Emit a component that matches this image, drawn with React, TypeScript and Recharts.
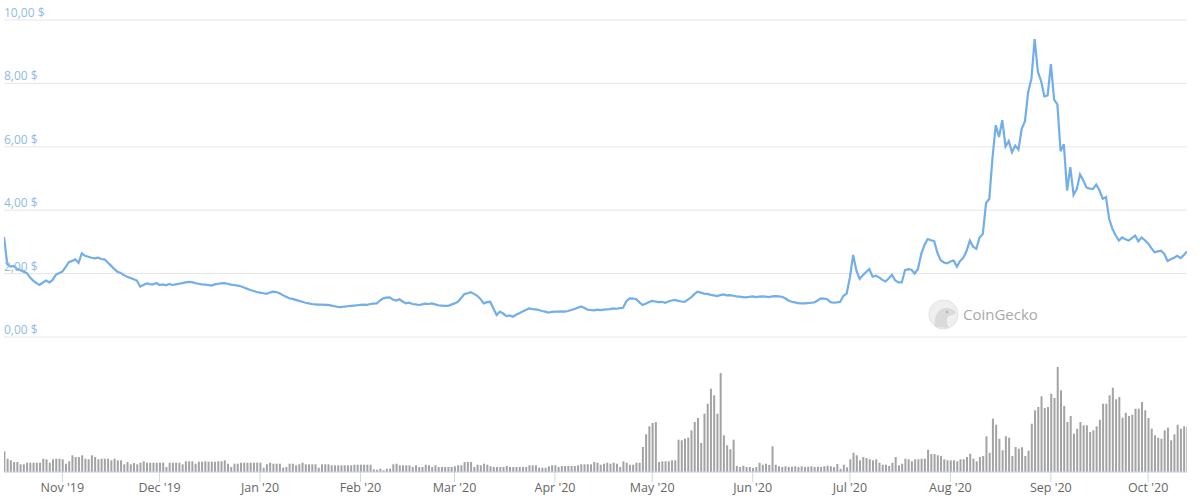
import { ComposedChart, Line, Bar, XAxis, YAxis, CartesianGrid } from 'recharts';

const START = Date.UTC(2019, 9, 14);
const DAY = 86400000;

// daily price, USD (Oct 14 2019 .. Oct 13 2020)
const price = [
  3.16, 2.3, 2.22, 2.24, 2.15, 2.11, 2.06, 2.02, 1.88, 1.78,
  1.7, 1.64, 1.72, 1.78, 1.72, 1.8, 1.96, 2.02, 2.06, 2.2,
  2.36, 2.4, 2.45, 2.34, 2.64, 2.56, 2.53, 2.5, 2.48, 2.5,
  2.46, 2.45, 2.35, 2.25, 2.15, 2.06, 2.02, 1.95, 1.9, 1.86,
  1.82, 1.78, 1.59, 1.64, 1.69, 1.67, 1.66, 1.7, 1.64, 1.66,
  1.63, 1.67, 1.64, 1.66, 1.68, 1.7, 1.72, 1.74, 1.73, 1.7,
  1.68, 1.66, 1.65, 1.64, 1.62, 1.66, 1.68, 1.69, 1.7, 1.68,
  1.65, 1.64, 1.62, 1.6, 1.56, 1.52, 1.48, 1.45, 1.42, 1.4,
  1.38, 1.36, 1.4, 1.43, 1.42, 1.38, 1.32, 1.27, 1.22, 1.2,
  1.17, 1.14, 1.11, 1.08, 1.06, 1.04, 1.03, 1.02, 1.02, 1.01,
  1.01, 0.99, 0.97, 0.95, 0.94, 0.96, 0.97, 0.98, 0.99, 1.0,
  1.01, 1.02, 1.01, 1.04, 1.05, 1.06, 1.15, 1.22, 1.24, 1.25,
  1.18, 1.15, 1.19, 1.12, 1.06, 1.08, 1.04, 1.03, 1.01, 1.03,
  1.05, 1.04, 1.06, 1.03, 1.0, 0.99, 0.98, 0.98, 1.02, 1.06,
  1.11, 1.22, 1.35, 1.38, 1.41, 1.36, 1.3, 1.2, 1.06, 1.1,
  1.11, 0.9, 0.69, 0.8, 0.74, 0.66, 0.68, 0.64, 0.7, 0.75,
  0.8, 0.85, 0.9, 0.88, 0.87, 0.85, 0.82, 0.8, 0.77, 0.79,
  0.8, 0.8, 0.81, 0.8, 0.82, 0.85, 0.88, 0.92, 0.96, 0.92,
  0.86, 0.85, 0.84, 0.86, 0.85, 0.86, 0.87, 0.88, 0.9, 0.89,
  0.91, 0.92, 1.12, 1.22, 1.21, 1.2, 1.1, 1.01, 1.05, 1.1,
  1.14, 1.12, 1.1, 1.11, 1.08, 1.12, 1.15, 1.17, 1.14, 1.12,
  1.11, 1.18, 1.25, 1.35, 1.43, 1.4, 1.37, 1.36, 1.33, 1.31,
  1.29, 1.32, 1.34, 1.31, 1.32, 1.3, 1.28, 1.27, 1.26, 1.25,
  1.27, 1.28, 1.26, 1.27, 1.28, 1.27, 1.26, 1.28, 1.29, 1.28,
  1.27, 1.22, 1.15, 1.11, 1.09, 1.07, 1.06, 1.06, 1.07, 1.08,
  1.09, 1.15, 1.22, 1.21, 1.19, 1.1, 1.08, 1.09, 1.11, 1.3,
  1.37, 1.88, 2.59, 2.09, 1.83, 1.95, 2.05, 2.14, 1.9, 1.93,
  1.88, 1.8, 1.75, 1.85, 1.96, 1.78, 1.72, 1.72, 2.11, 2.14,
  2.12, 2.0, 2.15, 2.62, 2.9, 3.09, 3.05, 3.02, 2.65, 2.42,
  2.35, 2.32, 2.38, 2.41, 2.22, 2.4, 2.5, 2.72, 3.04, 2.85,
  2.78, 3.14, 3.25, 4.22, 4.36, 5.67, 6.68, 6.31, 6.84, 6.01,
  6.18, 5.83, 6.04, 5.91, 6.57, 6.81, 7.73, 8.15, 9.4, 8.36,
  8.07, 7.59, 7.62, 8.61, 7.49, 7.34, 5.86, 6.08, 4.62, 5.36,
  4.48, 4.67, 5.13, 4.94, 4.71, 4.68, 4.67, 4.81, 4.62, 4.36,
  4.41, 3.72, 3.41, 3.2, 3.04, 3.14, 3.08, 3.04, 3.12, 3.2,
  3.02, 3.14, 3.05, 2.95, 2.8, 2.67, 2.7, 2.72, 2.62, 2.4,
  2.45, 2.5, 2.56, 2.49, 2.58, 2.7,
];

// daily trading volume (relative units)
const volume = [
  20.7, 13.3, 11.7, 10, 10, 7.7, 7.7, 9.3, 9.3, 9.3,
  9.3, 9.3, 13.3, 12.7, 9.3, 12.7, 13.3, 13.3, 12.7, 8.3,
  10.7, 16.7, 15, 15, 16.7, 13.3, 12.7, 16.7, 15, 12.7,
  13.3, 13.3, 13.3, 11.7, 13.3, 11.7, 11.7, 7.7, 10, 7.7,
  9, 7.7, 9.3, 10.7, 9.3, 9.3, 9.3, 9.3, 9.3, 9.3,
  5, 9.3, 9.3, 9.3, 9.3, 7.7, 10.7, 10.7, 10.7, 8.3,
  10.3, 10.3, 10.7, 10.3, 10.3, 10.3, 10.7, 10.7, 11.7, 8.3,
  5, 8.3, 8.3, 9.3, 9.3, 9.3, 9.3, 9.3, 9.3, 9.3,
  4.3, 7.7, 9.3, 8.3, 8.3, 8.3, 4.3, 5, 8.3, 8.3,
  6.7, 7.7, 9.3, 7.7, 7.7, 7.7, 7.7, 4.3, 7.7, 7.7,
  7.7, 6.7, 6.7, 6.7, 6.7, 6.7, 6.7, 6.7, 7.3, 7.3,
  7.3, 7.3, 7.3, 7.3, 2.7, 2.3, 3.3, 1.7, 3.3, 3.3,
  7.7, 8.3, 6.7, 6.7, 6.7, 6.7, 5, 6.7, 5, 5,
  7.3, 6.7, 5, 6.7, 5, 5, 5, 5, 5, 5.7,
  6.7, 6.7, 10, 10, 10, 5, 7.3, 6.7, 8.3, 7.3,
  5.7, 5, 5, 5, 5, 6, 5, 5, 5, 5,
  5, 5, 6.7, 6.7, 6.7, 4.3, 4.3, 4.3, 5.7, 6.7,
  6.7, 5, 6, 6, 6, 6, 6, 6.7, 7.7, 7.7,
  7.7, 7.7, 10, 9.3, 7.3, 8.3, 9.3, 8.3, 9.3, 8.3,
  5, 10.7, 9.3, 7.3, 7.3, 9.3, 9.3, 25, 37.7, 45.7,
  49, 50, 10, 10.7, 10.7, 10.7, 11.7, 11.7, 32.3, 31.7,
  33.3, 34.3, 41.7, 50, 54, 29, 58.3, 68.3, 83.3, 76.7,
  58.3, 99, 36.7, 26.7, 22.7, 32.3, 6, 5, 6.3, 5,
  5, 4, 5, 9.3, 7.3, 8.3, 7, 25.7, 7.3, 5.7,
  5, 5.7, 5, 5.3, 5.7, 5, 5.7, 5, 5.3, 5.7,
  5, 5.3, 5, 5.7, 6.3, 5.7, 5, 8, 3.3, 7.3,
  4.7, 12.7, 19.3, 16.7, 11.7, 15, 14, 12.7, 11.7, 12.7,
  9.3, 7.3, 7.3, 6, 9.3, 15, 6.7, 8.3, 13.3, 12.7,
  10.7, 12.7, 12.7, 13.3, 13.3, 22.3, 18, 18, 16.7, 16,
  12.7, 11.7, 11.7, 11.7, 10.7, 12.7, 12.7, 15, 18.3, 13.3,
  10.7, 15, 16, 35.7, 19.3, 53.3, 47.3, 33.3, 21.7, 35.7,
  34.3, 16, 25, 23.3, 24.7, 16, 21.3, 48.3, 61.7, 65,
  75.7, 64, 65, 78.3, 74, 105, 81.7, 66, 50, 56,
  38.3, 43.3, 50, 46.7, 46.7, 40, 41.7, 45.7, 52.3, 68.3,
  68.3, 76.7, 84.3, 72.7, 75, 54.3, 59.3, 56, 57.3, 63.3,
  63.3, 70, 61.7, 54, 43.3, 36.7, 34.3, 33.3, 41.7, 44.3,
  31.7, 37.7, 47.3, 43.3, 45.7, 45,
];

const monthTicks = [
  Date.UTC(2019, 10, 1), Date.UTC(2019, 11, 1), Date.UTC(2020, 0, 1), Date.UTC(2020, 1, 1),
  Date.UTC(2020, 2, 1), Date.UTC(2020, 3, 1), Date.UTC(2020, 4, 1), Date.UTC(2020, 5, 1),
  Date.UTC(2020, 6, 1), Date.UTC(2020, 7, 1), Date.UTC(2020, 8, 1), Date.UTC(2020, 9, 1),
];
const monthLabels = [
  "Nov '19", "Dec '19", "Jan '20", "Feb '20", "Mar '20", "Apr '20",
  "May '20", "Jun '20", "Jul '20", "Aug '20", "Sep '20", "Oct '20",
];
const priceTicks = [0, 2, 4, 6, 8, 10];

const data = price.map((p, i) => ({ t: START + i * DAY, price: p, volume: volume[i] }));

// eslint-disable-next-line @typescript-eslint/no-explicit-any
function renderPriceTick(props: any) {
  const { y, payload } = props;
  const label = `${Number(payload.value).toFixed(2).replace('.', ',')} $`;
  return (
    <text key={label} x={4} y={y - 3} fill="#8fbbe9" fontSize={12} fontFamily="Open Sans">
      {label}
    </text>
  );
}

function Watermark() {
  return (
    <svg width={140} height={40} style={{ position: 'absolute', left: 925, top: 295, pointerEvents: 'none' }}>
      <circle cx={18.5} cy={19.5} r={14.5} fill="#efefef" stroke="#e2e2e2" />
      <path d="M10 32 C9 22 12 14 20 13 C26 12.5 30 15 31 18 C29 20 25 20 23 21 C21 24 22 29 24 33 Z" fill="#dadada" />
      <circle cx={22} cy={17} r={1.3} fill="#b8b8b8" />
      <text x={38} y={24.5} fill="#a9a9a9" fontSize={15} fontFamily="Open Sans">CoinGecko</text>
    </svg>
  );
}

export default function App() {
  return (
    <div style={{ position: 'absolute', left: 0, top: 0, width: 1200, height: 499, background: '#fff', fontFamily: 'Open Sans' }}>
      <ComposedChart width={1200} height={499} data={data} margin={{ top: 20, right: 13, bottom: 0, left: 3 }}>
        <CartesianGrid vertical={false} stroke="#e6e6e6" />
        <XAxis
          dataKey="t"
          type="number"
          domain={[START, START + 365 * DAY]}
          ticks={monthTicks}
          tickFormatter={(v: number) => monthLabels[monthTicks.indexOf(v)]}
          height={27}
          stroke="#ccd6eb"
          tickSize={10}
          tickMargin={1}
          tick={{ fill: '#666666', fontSize: 12.5, fontFamily: 'Open Sans' }}
          allowDataOverflow
        />
        <YAxis
          domain={[-4.26, 10]}
          ticks={priceTicks}
          width={1}
          axisLine={false}
          tickLine={false}
          tick={renderPriceTick}
          interval={0}
          allowDataOverflow
        />
        <YAxis yAxisId="vol" hide domain={[0, 452]} />
        <Bar yAxisId="vol" dataKey="volume" fill="#a3a3a3" barSize={2} isAnimationActive={false} />
        <Line
          type="linear"
          dataKey="price"
          stroke="#72aeea"
          strokeWidth={2.2}
          dot={false}
          isAnimationActive={false}
        />
      </ComposedChart>
      <Watermark />
    </div>
  );
}
